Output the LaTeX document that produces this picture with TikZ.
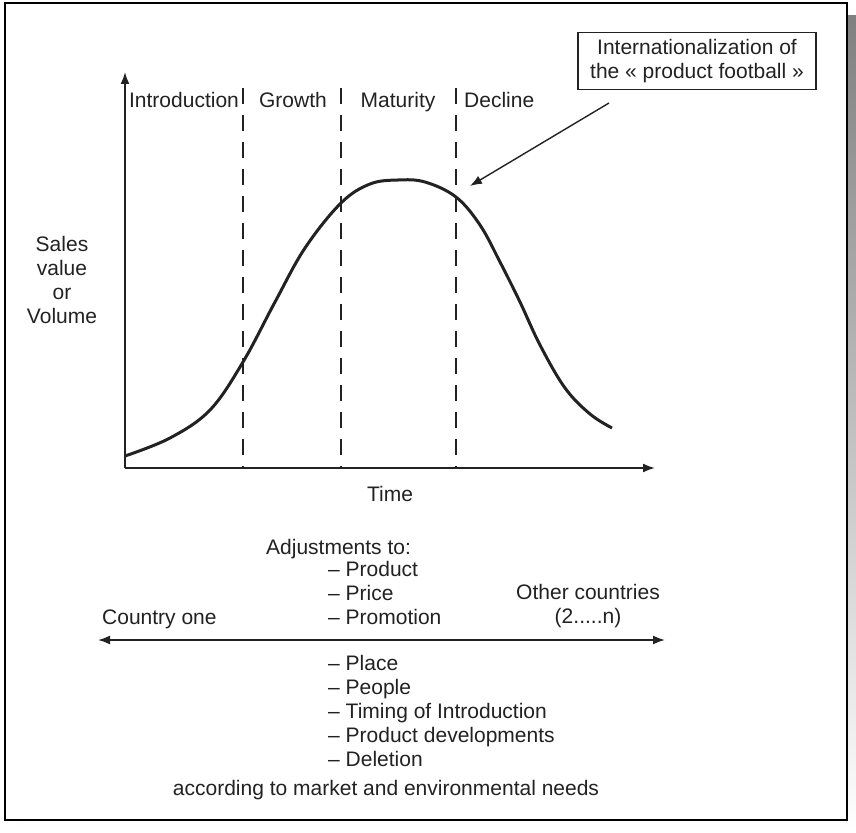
\documentclass[tikz,border=0pt]{standalone}
\usepackage{fontspec}
\setmainfont{Liberation Sans}
\usetikzlibrary{arrows.meta}
\definecolor{ink}{HTML}{222222}
\definecolor{shade}{HTML}{999999}
\begin{document}
\begin{tikzpicture}[x=1pt,y=-1pt,
  txt/.style={inner sep=0pt, text=ink, font=\fontsize{21}{24}\selectfont},
  axis/.style={draw=ink, line width=1.8pt, -{Latex[length=12pt,width=9pt]}},
  phase/.style={draw=ink, line width=1.4pt, dash pattern=on 16pt off 11pt},
  lifecurve/.style={draw=ink, line width=3pt},
  callout/.style={txt, draw=ink, line width=1.4pt, align=center, inner xsep=12pt, inner ysep=7pt}]
\useasboundingbox (0,0) rectangle (856,832);
% frame with drop shadow
\fill[shade] (18,16) rectangle (856,832);
\filldraw[fill=white, draw=black, line width=2pt] (5,3) rectangle (847,820);

% axes
\coordinate (O) at (125,468);
\coordinate (ytip) at (125,72);
\coordinate (xtip) at (655,468);
\draw[axis] (O) -- (ytip);
\draw[axis] (O) -- (xtip);

% phase boundaries
\coordinate (d1t) at (243,88); \coordinate (d1b) at (243,468);
\coordinate (d2t) at (341,88); \coordinate (d2b) at (341,468);
\coordinate (d3t) at (456,88); \coordinate (d3b) at (456,468);
\draw[phase] (d1t) -- (d1b);
\draw[phase] (d2t) -- (d2b);
\draw[phase] (d3t) -- (d3b);

% phase labels
\node[txt, anchor=base] (intro) at (184,108) {Introduction};
\node[txt, anchor=base] (growth) at (293,108) {Growth};
\node[txt, anchor=base] (maturity) at (398,108) {Maturity};
\node[txt, anchor=base west] (decline) at (464,108) {Decline};

% product life cycle curve
\draw[lifecurve] plot[smooth, tension=0.6] coordinates {
  (125,456) (170,438) (210,410) (243,362) (275,302) (305,248) (341,203)
  (370,184) (398,180) (425,182) (456,197) (480,225) (500,262) (520,302)
  (540,345) (565,388) (590,414) (612,428)};

% axis labels
\node[txt, anchor=north, align=center] (ylabel) at (62,236) {Sales\\value\\or\\Volume};
\node[txt, anchor=base] (time) at (390,501) {Time};

% callout
\node[callout] (note) at (697,61) {Internationalization of\\the « product football »};
\coordinate (tail) at (609,103);
\coordinate (head) at (470,186);
\draw[draw=ink, line width=1.4pt, -{Latex[length=12pt,width=9pt]}] (tail) -- (head);

% adjustments
\node[txt, anchor=base west] (adj) at (266,554) {Adjustments to:};
\node[txt, anchor=north west, align=left] (mixA) at (328,561) {– Product\\– Price\\– Promotion};
\node[txt, anchor=base west] (country) at (102,624) {Country one};
\node[txt, anchor=north, align=center] (others) at (588,584) {Other countries\\(2.....n)};
\coordinate (left) at (98,640);
\coordinate (right) at (665,640);
\draw[draw=ink, line width=1.8pt, {Latex[length=12pt,width=9pt]}-{Latex[length=12pt,width=9pt]}] (left) -- (right);
\node[txt, anchor=north west, align=left] (mixB) at (328,655) {– Place\\– People\\– Timing of Introduction\\– Product developments\\– Deletion};
\node[txt, anchor=base] (needs) at (386,795) {according to market and environmental needs};
\end{tikzpicture}
\end{document}
